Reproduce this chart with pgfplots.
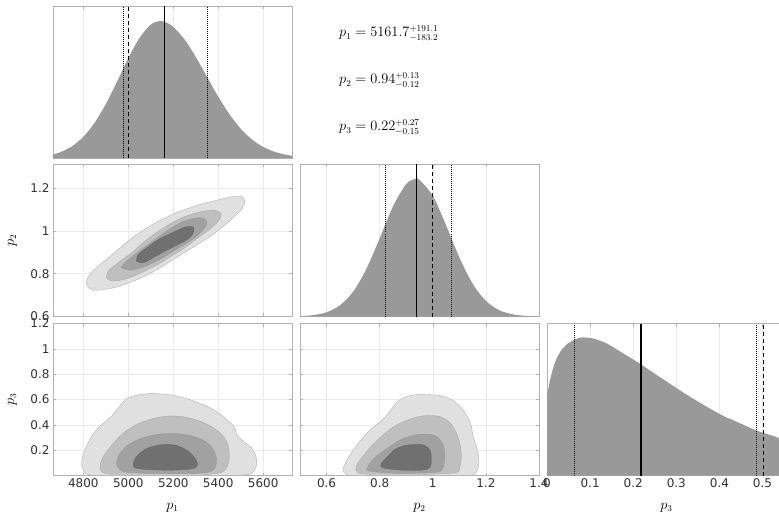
\documentclass[border=0pt]{standalone}
\usepackage[no-math]{fontspec}
\usepackage{pgfplots}
\pgfplotsset{compat=1.18}
\newfontfamily\tickfont{DejaVu Sans}

\pgfplotsset{
  corner/.style={
    scale only axis, width=239pt, height=152pt, anchor=north west,
    axis line style={black!30}, tick style={black!30, line width=0.4pt},
    major tick length=3pt, tick align=inside,
    grid style={black!8, line width=0.4pt},
    tick label style={font={\tickfont\fontsize{12}{14}\selectfont}, text=black!80},
    /pgf/number format/assume math mode=true,
    /pgf/number format/1000 sep={},
    label style={font=\fontsize{13.5}{16}\selectfont},
    xlabel style={at={(axis description cs:0.5,-0.21)}, anchor=center},
    ylabel style={at={(axis description cs:-0.17,0.5)}, anchor=center},
  },
  marg/.style={corner, ytick=\empty, xmajorgrids, ymin=0},
  joint/.style={corner, grid=major},
  c1/.style={fill=black!12, draw=black!30, line width=0.4pt, smooth, tension=0.55},
  c2/.style={fill=black!25, draw=black!35, line width=0.3pt, smooth, tension=0.55},
  c3/.style={fill=black!37, draw=black!42, line width=0.3pt, smooth, tension=0.55},
  c4/.style={fill=black!56, draw=black!60, line width=0.3pt, smooth, tension=0.55},
  med/.style={black, line width=1.2pt},
  qnt/.style={black, line width=0.9pt, dash pattern=on 1pt off 1pt},
  tru/.style={black, line width=1.2pt, dash pattern=on 4pt off 3pt},
}

\begin{document}
\begin{tikzpicture}
\useasboundingbox (0,0) rectangle (779pt,515pt);

% ---- p1 marginal ----
\begin{axis}[marg, at={(53pt,509pt)}, xmin=4665, xmax=5728, ymax=1.11,
  xtick={4800,5000,5200,5400,5600}, xticklabels={}]
\addplot[fill=black!40, draw=none, smooth] coordinates {
 (4665,0.0262) (4700,0.0439) (4750,0.0859) (4800,0.1548) (4850,0.2573)
 (4900,0.3946) (4950,0.5584) (5000,0.7288) (5050,0.8775) (5100,0.9745)
 (5140,1) (5170,0.989) (5200,0.958) (5250,0.866) (5300,0.7375) (5350,0.5918)
 (5400,0.4474) (5450,0.3187) (5500,0.2139) (5550,0.1353) (5600,0.0807)
 (5650,0.0453) (5700,0.024) (5728,0.0163)} \closedcycle;
\addplot[qnt] coordinates {(4978.5,0) (4978.5,1.11)};
\addplot[qnt] coordinates {(5352.8,0) (5352.8,1.11)};
\addplot[tru] coordinates {(5000,0) (5000,1.11)};
\addplot[med] coordinates {(5161.7,0) (5161.7,1.11)};
\end{axis}

% ---- p1 vs p2 ----
\begin{axis}[joint, at={(53pt,350.5pt)}, xmin=4665, xmax=5728, ymin=0.6, ymax=1.31,
  xtick={4800,5000,5200,5400,5600}, xticklabels={},
  ytick={0.6,0.8,1,1.2}, ylabel={$p_2$}]
\addplot[c1] coordinates {
 (4822.1,0.7355) (4811.8,0.7616) (4829.5,0.797) (4866.3,0.8354) (4910.6,0.8739)
 (4954.8,0.9123) (5006.4,0.9585) (5058.0,0.9969) (5116.9,1.0354) (5161.1,1.0584)
 (5205.4,1.0815) (5264.3,1.1046) (5323.3,1.1246) (5382.2,1.14) (5441.2,1.1553)
 (5485.4,1.163) (5507.5,1.1584) (5517.8,1.1353) (5507.5,1.1046) (5485.4,1.0815)
 (5455.9,1.0508) (5411.7,1.0123) (5352.8,0.9662) (5293.8,0.9277) (5234.8,0.8893)
 (5175.9,0.8508) (5116.9,0.8124) (5058.0,0.7816) (4999.0,0.7555) (4940.0,0.7355)
 (4881.1,0.7247) (4844.2,0.7232) (4822.1,0.7355)};
\addplot[c2] coordinates {
 (4903.2,0.7816) (4910.6,0.8124) (4954.8,0.8508) (5013.7,0.897) (5072.7,0.9508)
 (5131.7,0.9969) (5190.6,1.0354) (5249.6,1.0661) (5323.3,1.0892) (5382.2,1.0969)
 (5411.7,1.0815) (5404.3,1.0508) (5367.5,1.0123) (5308.5,0.9662) (5249.6,0.92)
 (5190.6,0.8816) (5131.7,0.8431) (5058.0,0.8047) (4984.3,0.7739) (4925.3,0.7662)
 (4903.2,0.7816)};
\addplot[c3] coordinates {
 (4969.5,0.8277) (4984.3,0.8508) (5028.5,0.8893) (5087.4,0.9354) (5146.4,0.9815)
 (5205.4,1.0231) (5264.3,1.0508) (5323.3,1.0615) (5349.8,1.0431) (5338.0,1.0123)
 (5293.8,0.9662) (5234.8,0.9277) (5175.9,0.8893) (5116.9,0.8539) (5058.0,0.8277)
 (5006.4,0.817) (4969.5,0.8277)};
\addplot[c4] coordinates {
 (5035.8,0.8585) (5043.2,0.8893) (5080.1,0.92) (5131.7,0.9585) (5190.6,0.9892)
 (5249.6,1.0169) (5286.4,1.02) (5290.8,0.9969) (5271.7,0.9662) (5220.1,0.9354)
 (5161.1,0.9046) (5109.5,0.8739) (5065.3,0.8508) (5035.8,0.8585)};
\end{axis}

% ---- p2 marginal ----
\begin{axis}[marg, at={(300pt,350.5pt)}, xmin=0.5, xmax=1.4, ymax=1.105,
  xtick={0.6,0.8,1,1.2,1.4}, xticklabels={}]
\addplot[fill=black!40, draw=none, smooth] coordinates {
 (0.5,0.0028) (0.55,0.0101) (0.6,0.0308) (0.65,0.0806) (0.7,0.1805)
 (0.75,0.3461) (0.8,0.5684) (0.85,0.7993) (0.9,0.9627) (0.935,1)
 (0.95,0.993) (1.0,0.8772) (1.05,0.6637) (1.1,0.43) (1.15,0.2386)
 (1.2,0.1134) (1.25,0.0461) (1.3,0.0161) (1.35,0.0048) (1.4,0.0012)} \closedcycle;
\addplot[qnt] coordinates {(0.82,0) (0.82,1.105)};
\addplot[qnt] coordinates {(1.07,0) (1.07,1.105)};
\addplot[tru] coordinates {(1,0) (1,1.105)};
\addplot[med] coordinates {(0.94,0) (0.94,1.105)};
\end{axis}

% ---- p1 vs p3 ----
\begin{axis}[joint, at={(53pt,191.5pt)}, xmin=4665, xmax=5728, ymin=0, ymax=1.2,
  xtick={4800,5000,5200,5400,5600}, ytick={0.2,0.4,0.6,0.8,1,1.2},
  xlabel={$p_1$}, ylabel={$p_3$}]
\addplot[c1] coordinates {
 (4829.6,0.003) (4807.4,0.0208) (4792.6,0.0867) (4797,0.1526) (4814.8,0.2316)
 (4837,0.3107) (4874.1,0.3897) (4918.5,0.4556) (4955.6,0.5346) (4985.2,0.5953)
 (5022.2,0.6269) (5081.5,0.6453) (5155.6,0.6427) (5229.6,0.6216) (5303.7,0.5794)
 (5377.8,0.5215) (5437,0.4424) (5474.1,0.3765) (5481.5,0.3238) (5511.1,0.2711)
 (5548.2,0.2184) (5567.4,0.1526) (5570.4,0.0867) (5558.5,0.034) (5533.3,0.0076)
 (5481.5,0.002)};
\addplot[c2] coordinates {
 (4933.3,0.0076) (4888.9,0.0208) (4874.1,0.0603) (4881.5,0.1262) (4911.1,0.2053)
 (4963,0.3107) (5022.2,0.3897) (5096.3,0.4424) (5170.4,0.4688) (5244.4,0.4635)
 (5318.5,0.4292) (5377.8,0.3765) (5422.2,0.3107) (5444.4,0.2316) (5448.9,0.1394)
 (5437,0.0603) (5407.4,0.0208) (5333.3,0.0076)};
\addplot[c3] coordinates {
 (5111.1,0.0156) (4992.6,0.0261) (4963,0.0472) (4948.2,0.0867) (4955.6,0.1526)
 (4992.6,0.2316) (5051.9,0.2896) (5125.9,0.3238) (5200,0.3318) (5274.1,0.3159)
 (5340.7,0.2711) (5377.8,0.2053) (5392.6,0.1262) (5385.2,0.0603) (5355.6,0.0261)
 (5259.3,0.0156) (5111.1,0.0156)};
\addplot[c4] coordinates {
 (5081.5,0.0472) (5029.6,0.0603) (5022.2,0.0999) (5044.4,0.1657) (5088.9,0.2184)
 (5155.6,0.2448) (5214.8,0.2369) (5266.7,0.1921) (5300.7,0.1262) (5306.7,0.0788)
 (5281.5,0.0524) (5185.2,0.0419) (5081.5,0.0472)};
\end{axis}

% ---- p2 vs p3 ----
\begin{axis}[joint, at={(300pt,191.5pt)}, xmin=0.5, xmax=1.4, ymin=0, ymax=1.2,
  xtick={0.6,0.8,1,1.2,1.4}, ytick={0.2,0.4,0.6,0.8,1,1.2}, yticklabels={},
  xlabel={$p_2$}]
\addplot[c1] coordinates {
 (0.6807,0.003) (0.6619,0.034) (0.6682,0.0867) (0.6933,0.1789) (0.7309,0.2843)
 (0.7686,0.3686) (0.8126,0.4424) (0.8439,0.5215) (0.8691,0.5873) (0.9067,0.6269)
 (0.9569,0.64) (1.0197,0.6321) (1.0699,0.6005) (1.1076,0.5346) (1.1327,0.4556)
 (1.1453,0.3897) (1.1515,0.3107) (1.1679,0.2053) (1.1741,0.113) (1.1679,0.0419)
 (1.1515,0.005) (1.10,0.002)};
\addplot[c2] coordinates {
 (0.7812,0.0076) (0.7184,0.0208) (0.7121,0.0735) (0.7372,0.1526) (0.7812,0.258)
 (0.8377,0.3634) (0.8942,0.4292) (0.9569,0.4688) (1.0197,0.4688) (1.0574,0.4292)
 (1.0825,0.3634) (1.1013,0.258) (1.1076,0.1526) (1.1013,0.0603) (1.0825,0.0208)
 (0.9444,0.0076)};
\addplot[c3] coordinates {
 (0.8816,0.0156) (0.7623,0.034) (0.7561,0.0735) (0.7812,0.1394) (0.8314,0.2184)
 (0.8816,0.2843) (0.9444,0.3238) (1.0072,0.3159) (1.0385,0.2448) (1.0448,0.1526)
 (1.0385,0.0603) (1.0134,0.0261) (0.8816,0.0156)};
\addplot[c4] coordinates {
 (0.8816,0.0419) (0.8126,0.0603) (0.8063,0.0946) (0.8314,0.1526) (0.8565,0.2053)
 (0.8942,0.2369) (0.9569,0.2448) (0.9883,0.2053) (0.9946,0.1262) (0.9883,0.0603)
 (0.9569,0.0419) (0.8816,0.0419)};
\end{axis}

% ---- p3 marginal ----
\begin{axis}[marg, at={(547pt,191.5pt)}, xmin=0, xmax=0.5545, ymax=1,
  xtick={0,0.1,0.2,0.3,0.4,0.5}, xlabel={$p_3$}]
\addplot[fill=black!40, draw=none, smooth] coordinates {
 (0,0.523) (0.008,0.64) (0.018,0.74) (0.03,0.81) (0.045,0.86) (0.0634,0.893)
 (0.0804,0.908) (0.1075,0.901) (0.1384,0.869) (0.1771,0.803) (0.2181,0.731)
 (0.2545,0.661) (0.2931,0.589) (0.3318,0.518) (0.3705,0.453) (0.4091,0.392)
 (0.4478,0.344) (0.4865,0.295) (0.5251,0.26) (0.5383,0.245) (0.5545,0.232)} \closedcycle;
\addplot[qnt] coordinates {(0.0634,0) (0.0634,1)};
\addplot[qnt] coordinates {(0.4865,0) (0.4865,1)};
\addplot[tru] coordinates {(0.503,0) (0.503,1)};
\addplot[med] coordinates {(0.218,0) (0.218,1)};
\end{axis}

% ---- summary text ----
\begin{scope}[every node/.style={anchor=base west, inner sep=0pt, font=\fontsize{13.5}{16}\selectfont}]
\node at (339pt,478pt) {$p_1 = 5161.7^{+191.1}_{-183.2}$};
\node at (339pt,431pt) {$p_2 = 0.94^{+0.13}_{-0.12}$};
\node at (339pt,384pt) {$p_3 = 0.22^{+0.27}_{-0.15}$};
\end{scope}
\end{tikzpicture}
\end{document}
